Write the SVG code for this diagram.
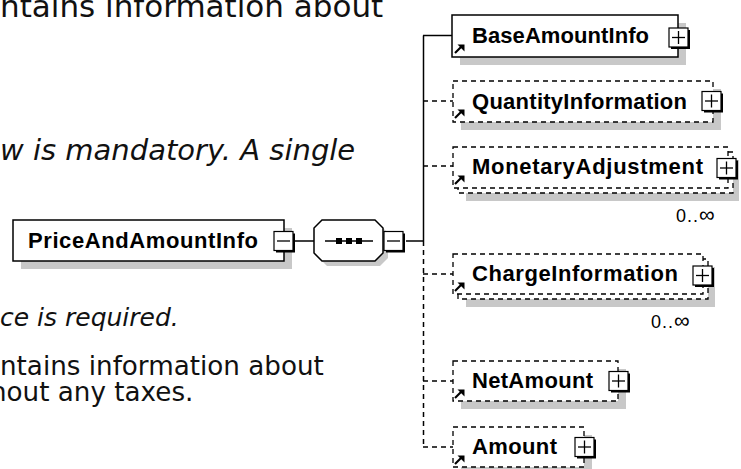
<svg xmlns="http://www.w3.org/2000/svg" width="741" height="469" viewBox="0 0 741 469">
<style>
.bg{fill:#fff}
.para{font-family:"DejaVu Sans","Verdana",sans-serif;fill:#111}
.it{font-style:italic}
.box{fill:#fff;stroke:#000;stroke-width:1.5}
.dbox{fill:#fff;stroke:#000;stroke-width:1.3;stroke-dasharray:5,4}
.sh{fill:#c8c8c8}
.lbl{font-family:"Liberation Sans",Arial,sans-serif;font-weight:bold;font-size:22px;fill:#000}
.occ{font-family:"Liberation Sans",Arial,sans-serif;font-size:18px;letter-spacing:1px;fill:#000}
.inf{font-size:22px;letter-spacing:0}
.ln{stroke:#000;stroke-width:1.5;fill:none}
.dl{stroke:#000;stroke-width:1.5;fill:none;stroke-dasharray:5,4}
.pm{fill:#fff;stroke:#000;stroke-width:1.2}
.pmsh{fill:#000}
.sign{stroke:#000;stroke-width:1.3}
</style>
<defs>
<g id="plus">
<rect class="pmsh" x="-8" y="-8" width="19" height="19"/>
<rect class="pm" x="-10" y="-10" width="19" height="19"/>
<line class="sign" x1="-7" y1="-0.5" x2="6" y2="-0.5"/>
<line class="sign" x1="-0.5" y1="-7" x2="-0.5" y2="6"/>
</g>
<g id="minus">
<rect class="pmsh" x="-8" y="-8" width="19" height="19"/>
<rect class="pm" x="-10" y="-10" width="19" height="19"/>
<line class="sign" x1="-7" y1="-0.5" x2="6" y2="-0.5"/>
</g>
<g id="ref">
<line x1="0" y1="8" x2="6" y2="2" stroke="#000" stroke-width="2.2"/>
<polygon points="2.5,-0.5 9.5,-0.5 9.5,6.5" fill="#000"/>
</g>
</defs>
<rect class="bg" x="0" y="0" width="741" height="469"/>

<g id="paragraphs">
<text class="para" x="0" y="17" font-size="31">ntains information about</text>
<text class="para it" x="0" y="160" font-size="29">w is mandatory. A single</text>
<text class="para it" x="0" y="326" font-size="25">ce is required.</text>
<text class="para" x="0" y="375" font-size="26.2">ntains information about</text>
<text class="para" x="-10" y="401" font-size="26.2">hout any taxes.</text>
</g>

<g id="connectors">
<line class="ln" x1="295" y1="241" x2="314" y2="241"/>
<line class="ln" x1="406" y1="241" x2="423.5" y2="241"/>
<line class="ln" x1="423.5" y1="35.5" x2="423.5" y2="241"/>
<line class="dl" x1="423.5" y1="241" x2="423.5" y2="447"/>
<line class="ln" x1="423" y1="35.5" x2="452" y2="35.5"/>
<line class="dl" x1="423" y1="101" x2="453" y2="101"/>
<line class="dl" x1="423" y1="166" x2="453" y2="166"/>
<line class="dl" x1="423" y1="274" x2="453" y2="274"/>
<line class="dl" x1="423" y1="381" x2="453" y2="381"/>
<line class="dl" x1="423" y1="447" x2="453" y2="447"/>
</g>

<g id="PriceAndAmountInfo">
<rect class="sh" x="21" y="228" width="271" height="41"/>
<rect class="box" x="13" y="220" width="271" height="41"/>
<text class="lbl" x="28" y="248" textLength="230">PriceAndAmountInfo</text>
<use href="#minus" x="284" y="241.5"/>
</g>

<g id="sequence">
<polygon class="sh" points="327,225 380,225 388,233 388,258 380,266 327,266 319,258 319,233"/>
<polygon class="box" points="322,220 375,220 383,228 383,253 375,261 322,261 314,253 314,228"/>
<line class="ln" x1="325" y1="241" x2="373" y2="241"/>
<rect x="336" y="238" width="6" height="6" fill="#000"/>
<rect x="346" y="238" width="6" height="6" fill="#000"/>
<rect x="356" y="238" width="6" height="6" fill="#000"/>
<use href="#minus" x="394" y="241.5"/>
</g>

<g id="BaseAmountInfo">
<rect class="sh" x="460" y="23" width="226" height="42"/>
<rect class="box" x="452" y="15" width="226" height="42"/>
<use href="#ref" x="455" y="45"/>
<text class="lbl" x="472" y="43" textLength="177">BaseAmountInfo</text>
<use href="#plus" x="679" y="38"/>
</g>

<g id="QuantityInformation">
<rect class="sh" x="461" y="89" width="260" height="41"/>
<rect class="dbox" x="453" y="81" width="260" height="41"/>
<use href="#ref" x="455" y="110"/>
<text class="lbl" x="472" y="109" textLength="215">QuantityInformation</text>
<use href="#plus" x="712" y="101.5"/>
</g>

<g id="MonetaryAdjustment">
<rect class="sh" x="466" y="160" width="273" height="41"/>
<rect class="dbox" x="458" y="152" width="275" height="41"/>
<rect class="dbox" x="453" y="147" width="275" height="41"/>
<use href="#ref" x="455" y="176"/>
<text class="lbl" x="472" y="174" textLength="231">MonetaryAdjustment</text>
<use href="#plus" x="727" y="168.5"/>
<text class="occ" x="676" y="222">0..<tspan class="inf">∞</tspan></text>
</g>

<g id="ChargeInformation">
<rect class="sh" x="466" y="267" width="249" height="40"/>
<rect class="dbox" x="458" y="259" width="250" height="40"/>
<rect class="dbox" x="453" y="254" width="250" height="40"/>
<use href="#ref" x="455" y="283"/>
<text class="lbl" x="472" y="281" textLength="206">ChargeInformation</text>
<use href="#plus" x="703" y="276"/>
<text class="occ" x="651" y="328">0..<tspan class="inf">∞</tspan></text>
</g>

<g id="NetAmount">
<rect class="sh" x="461" y="369" width="165" height="40"/>
<rect class="dbox" x="453" y="361" width="165" height="40"/>
<use href="#ref" x="455" y="390"/>
<text class="lbl" x="472" y="388" textLength="121">NetAmount</text>
<use href="#plus" x="619" y="381.5"/>
</g>

<g id="Amount">
<rect class="sh" x="461" y="435" width="131" height="40"/>
<rect class="dbox" x="453" y="427" width="131" height="40"/>
<use href="#ref" x="455" y="456"/>
<text class="lbl" x="472" y="454" textLength="85">Amount</text>
<use href="#plus" x="585" y="447.5"/>
</g>
</svg>
